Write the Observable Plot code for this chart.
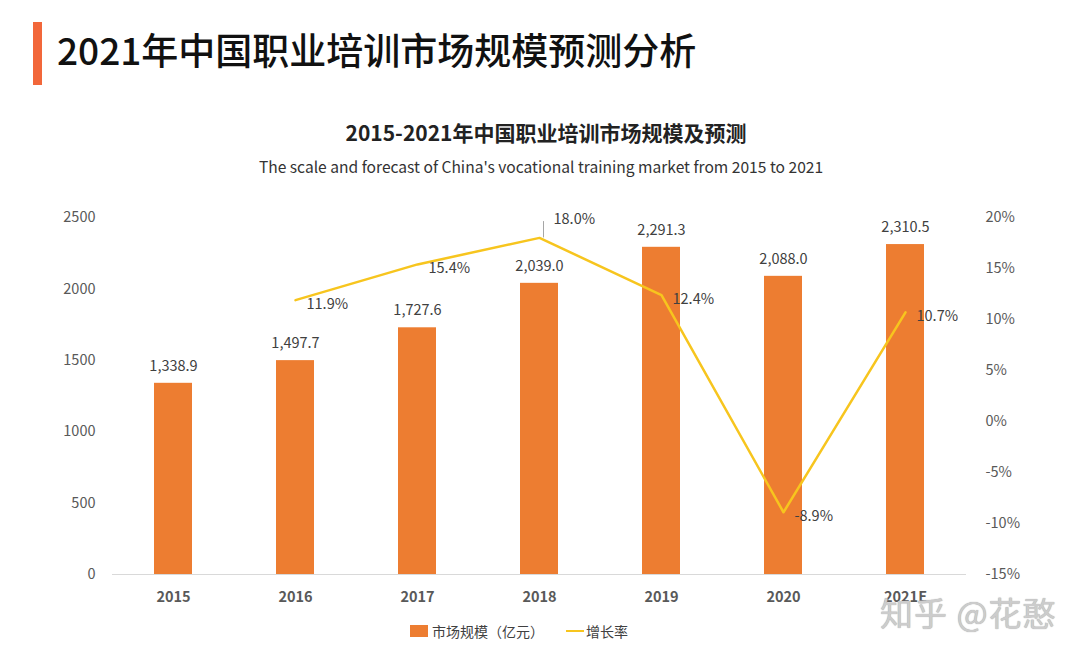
<!DOCTYPE html>
<html>
<head>
<meta charset="utf-8">
<script src="https://cdn.jsdelivr.net/npm/d3@7"></script>
<script src="https://cdn.jsdelivr.net/npm/@observablehq/plot@0.6"></script>
<style>
  html, body { margin: 0; padding: 0; background: #fff; width: 1080px; height: 660px; overflow: hidden; }
  body { position: relative; font-family: "Noto Sans CJK SC", "Noto Sans", sans-serif; }
  .bar-accent { position: absolute; left: 33px; top: 22px; width: 9px; height: 63px; background: #F2673A; }
  .main-title { position: absolute; left: 57px; top: 23px; font-size: 37px; font-weight: 500; color: #111; white-space: nowrap; line-height: 52px; }
  .chart-title { position: absolute; left: 0; width: 1092px; top: 118px; text-align: center; font-size: 21px; font-weight: 700; color: #222; line-height: 28px; }
  .chart-sub { position: absolute; left: 0; width: 1082px; top: 154px; text-align: center; font-size: 15.6px; color: #333; line-height: 24px; }
  #chart { position: absolute; left: 0; top: 190px; }
  .legend { position: absolute; top: 621px; left: 410px; display: flex; align-items: center; font-size: 14px; color: #404040; white-space: nowrap; }
  .legend .sw { width: 18px; height: 12px; background: #ED7D31; margin-right: 4px; }
  .legend .ln { width: 18px; height: 2px; background: #F7C51E; margin-left: 22px; margin-right: 2px; }
  .wm { position: absolute; left: 880px; top: 588px; font-size: 33px; color: #cccccc; white-space: nowrap; letter-spacing: 1px; text-shadow: 0 0 1px #999; }
</style>
</head>
<body>
<div class="bar-accent"></div>
<div class="main-title">2021年中国职业培训市场规模预测分析</div>
<div class="chart-title">2015-2021年中国职业培训市场规模及预测</div>
<div class="chart-sub">The scale and forecast of China's vocational training market from 2015 to 2021</div>
<div id="chart"></div>
<div class="legend"><span class="sw"></span><span>市场规模（亿元）</span><span class="ln"></span><span>增长率</span></div>
<div class="wm">知乎 @花憨</div>
<script>
const years = ["2015", "2016", "2017", "2018", "2019", "2020", "2021E"];
const marketSize = [1338.9, 1497.7, 1727.6, 2039.0, 2291.3, 2088.0, 2310.5];
const growthYears = ["2016", "2017", "2018", "2019", "2020", "2021E"];
const growthRate = [11.9, 15.4, 18.0, 12.4, -8.9, 10.7];
const leftTicks = [0, 500, 1000, 1500, 2000, 2500];
const rightTicks = [-15, -10, -5, 0, 5, 10, 15, 20];

const barData = years.map((y, i) => ({year: y, value: marketSize[i]}));
const pct = d3.scaleLinear().domain([-15, 20]).range([0, 2500]);
const lineData = growthYears.map((y, i) => ({year: y, rate: growthRate[i], yv: pct(growthRate[i])}));
const peak = lineData.filter(d => d.rate === d3.max(growthRate));
const others = lineData.filter(d => d.rate !== d3.max(growthRate));

const chart = Plot.plot({
  width: 1080,
  height: 430,
  marginTop: 27,
  marginBottom: 46,
  marginLeft: 112,
  marginRight: 114,
  style: {fontFamily: "'Noto Sans CJK SC', 'Noto Sans', sans-serif", fontSize: "14.5px", color: "#595959", background: "transparent"},
  x: {domain: years, paddingInner: 0.69, paddingOuter: 0.345, label: null},
  y: {domain: [0, 2500], label: null},
  marks: [
    Plot.ruleY([0], {stroke: "#d9d9d9"}),
    Plot.barY(barData, {x: "year", y: "value", fill: "#ED7D31"}),
    Plot.text(barData, {x: "year", y: "value", text: d => d3.format(",.1f")(d.value), dy: -17, fill: "#404040", fontSize: 14.5}),
    Plot.line(lineData, {x: "year", y: "yv", stroke: "#F7C51E", strokeWidth: 2.5}),
    Plot.text(others, {x: "year", y: "yv", text: d => d.rate.toFixed(1) + "%", textAnchor: "start", dx: 11, dy: 4, fill: "#404040", fontSize: 14.5}),
    Plot.ruleX(peak, {x: "year", y1: "yv", y2: d => pct(d.rate + 1.6), dx: 4, stroke: "#a6a6a6", strokeWidth: 1}),
    Plot.text(peak, {x: "year", y: d => pct(d.rate + 1.8), text: d => d.rate.toFixed(1) + "%", textAnchor: "start", dx: 14, fill: "#404040", fontSize: 14.5}),
    Plot.axisX({tickSize: 0, tickPadding: 17, fontWeight: 600, fill: "#595959"}),
    Plot.axisY(leftTicks, {anchor: "left", tickSize: 0, tickPadding: 17, fill: "#595959", tickFormat: d => String(d)}),
    Plot.axisY(rightTicks.map(v => pct(v)), {anchor: "right", tickSize: 0, tickPadding: 19, fill: "#595959", tickFormat: v => Math.round(pct.invert(v)) + "%"})
  ]
});
document.getElementById("chart").appendChild(chart);
</script>
</body>
</html>
